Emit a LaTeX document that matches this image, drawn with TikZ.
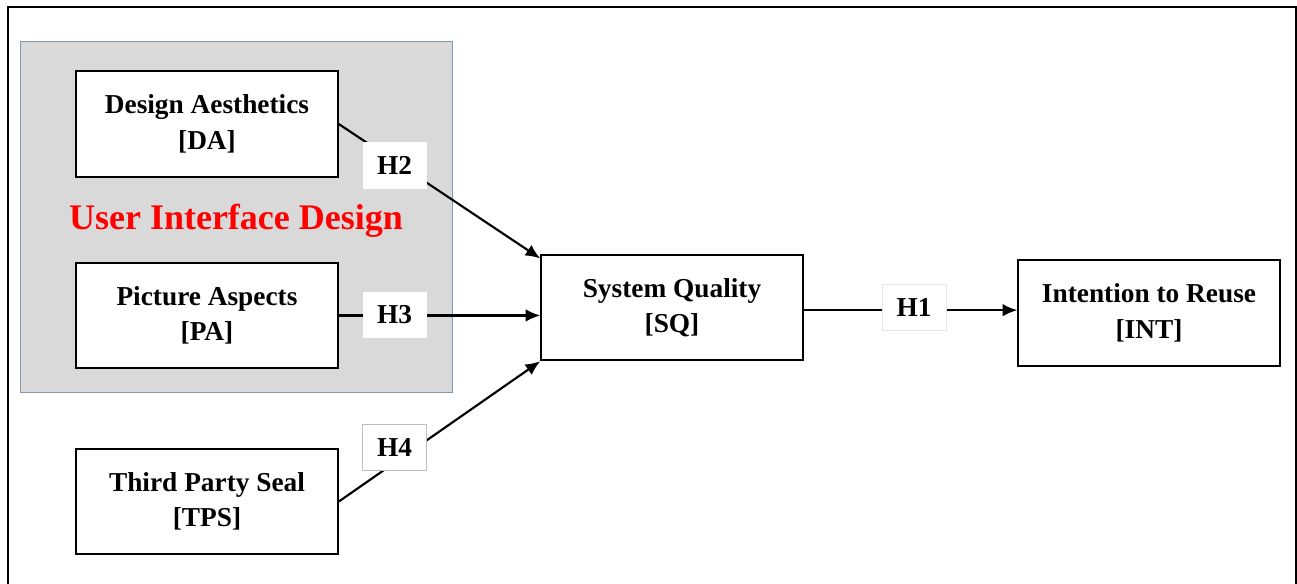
\documentclass[tikz,border=0pt]{standalone}
\usepackage{fontspec}
\setmainfont{Liberation Serif}
\usetikzlibrary{positioning, arrows.meta}
\definecolor{panelgray}{HTML}{D9D9D9}
\definecolor{panelline}{HTML}{8497B0}
\tikzset{
construct/.style={shape=rectangle, minimum width=196pt, minimum height=79pt, draw, line width=1.6pt, fill=white, align=center, font=\fontsize{20.5}{26.5}\selectfont\bfseries},
hyp/.style={shape=rectangle, minimum width=48pt, minimum height=35pt, inner sep=0, fill=white, font=\fontsize{20.5}{24}\selectfont\bfseries},
link/.style={line width=1.6pt, -{Latex[length=11pt, width=9.5pt]}}}

\begin{document}
\begin{tikzpicture}[x=0.75pt, y=-0.75pt]
\useasboundingbox (0,0) rectangle (1297,584);
\clip (0,0) rectangle (1297,584);
% frame (open at the bottom)
\draw [line width=1.8pt] (8,600) -- (8,7) -- (1296,7) -- (1296,600);
% user interface group
\draw [fill=panelgray, draw=panelline, line width=0.7pt] (20,41) rectangle (452,392);
\node [text=red, font=\fontsize{27}{30}\selectfont\bfseries] (uid) at (236,221) {User Interface Design};
% constructs
\node [construct] (da) at (207,124) {Design Aesthetics\\{[DA]}};
\node [construct, below=63pt of da] (pa) {Picture Aspects\\{[PA]}};
\node [construct, below=59pt of pa] (tps) {Third Party Seal\\{[TPS]}};
\node [construct] (sq) at (672,307.5) {System Quality\\{[SQ]}};
\node [construct] (int) at (1149,313) {Intention to Reuse\\{[INT]}};
% paths
\draw [link] (da.east) -- ([yshift=-3.5pt]sq.north west);
\draw [link] (pa.east) -- (pa.east -| sq.west);
\draw [link] (tps.east) -- (sq.south west);
\draw [link] ([yshift=-2pt]sq.east) -- ([yshift=-2pt]sq.east -| int.west);
% hypotheses
\node [hyp] (h2) at (394.5,165.5) {H2};
\node [hyp] (h3) at (394.5,315) {H3};
\node [hyp, draw=black!25, line width=0.6pt] (h4) at (394.5,447.5) {H4};
\node [hyp, draw=black!10, line width=0.6pt] (h1) at (914,307.5) {H1};
\end{tikzpicture}
\end{document}
